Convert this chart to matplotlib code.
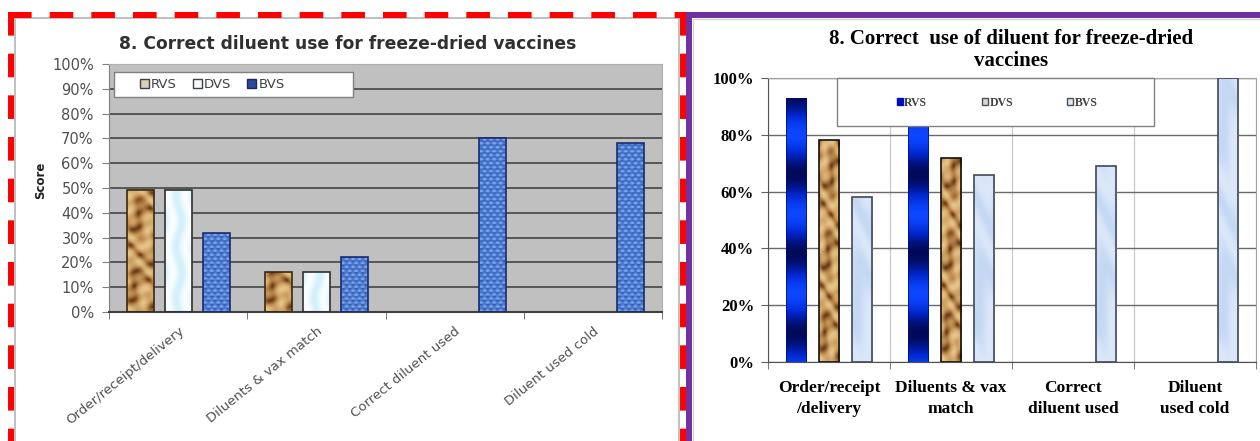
import numpy as np
import matplotlib
matplotlib.use("Agg")
import matplotlib.pyplot as plt
from matplotlib.colors import LinearSegmentedColormap
from matplotlib.patches import Rectangle, Patch

# ---- data ----
nan = np.nan
cats_left = ["Order/receipt/delivery", "Diluents & vax match",
             "Correct diluent used", "Diluent used cold"]
cats_right = ["Order/receipt\n/delivery", "Diluents & vax\nmatch",
              "Correct\ndiluent used", "Diluent\nused cold"]
series = ["RVS", "DVS", "BVS"]

left_rvs = [49, 16, nan, nan]
left_dvs = [49, 16, nan, nan]
left_bvs = [32, 22, 70, 68]

right_rvs = [93, 83, nan, nan]
right_dvs = [78, 72, nan, nan]
right_bvs = [58, 66, 69, 100]

left_yticks = list(range(0, 101, 10))
right_yticks = list(range(0, 101, 20))

W, H = 1260, 441
plt.rcParams['lines.scale_dashes'] = False
fig = plt.figure(figsize=(12.6, 4.41), dpi=100)


def px_axes(x0, y0, x1, y1):
    return fig.add_axes([x0 / W, 1 - y1 / H, (x1 - x0) / W, (y1 - y0) / H])


# fill textures for the bars
cmaps = {
    'wood': LinearSegmentedColormap.from_list('wood', ['#5a3414', '#9a6632', '#c99a5c', '#e6c48a']),
    'ice': LinearSegmentedColormap.from_list('ice', ['#d4f0fb', '#e8f8fe', '#fafeff']),
    'brick': LinearSegmentedColormap.from_list('brick', ['#2c56b2', '#4c7cd2', '#94b6f0']),
    'blue': LinearSegmentedColormap.from_list('blue', ['#000a5a', '#0024c8', '#0c46ff']),
    'sky': LinearSegmentedColormap.from_list('sky', ['#c4d8f3', '#d0e0f7', '#dce8fa']),
}


def pattern(kind, xx, yy):
    if kind == 'wood':
        v = (np.sin(0.45 * yy + 2.5 * np.sin(4 * xx + 0.2 * yy))
             + 0.5 * np.sin(1.1 * yy - 5 * xx + 0.8))
        return ((v + 1.5) / 3.0) ** 0.6
    if kind == 'ice':
        return 0.5 + 0.5 * np.sin(xx * 9 + np.sin(yy * 0.3))
    if kind == 'brick':
        row = np.floor(yy / 1.6) % 2
        return 0.5 + 0.25 * np.sin(yy * 3.9) + 0.25 * np.sin(xx * 25 + 3 * row)
    if kind == 'blue':
        return 0.5 + 0.5 * np.cos(2 * np.pi * (yy - 52) / 28) + 0 * xx
    return 0.5 + 0.5 * np.sin(yy * 0.2 + 2 * np.sin(xx * 3 + yy * 0.1))


def fill_texture(ax, bars, kind):
    for b in bars:
        h = b.get_height()
        if not np.isfinite(h) or h <= 0:
            continue
        x0, w = b.get_x(), b.get_width()
        yy = np.linspace(0, h, max(int(h * 3), 2))[:, None]
        xx = np.linspace(0, 1, 24)[None, :]
        im = ax.imshow(pattern(kind, xx, yy), cmap=cmaps[kind], vmin=0, vmax=1,
                       extent=[x0, x0 + w, 0, h], origin='lower', aspect='auto',
                       interpolation='bilinear', zorder=2.5)
        im.set_clip_path(b)


# ---- panel frames ----
bg = fig.add_axes([0, 0, 1, 1])
bg.set_xlim(0, W)
bg.set_ylim(H, 0)
bg.axis('off')
bg.add_patch(Rectangle((15, 18), 664, 440, facecolor='white', edgecolor='#b4b4b4', lw=1.2))
bg.add_patch(Rectangle((693, 19), 580, 440, facecolor='white', edgecolor='#d4d4d4', lw=1))
red = dict(color='#ff0000', lw=4.3, solid_capstyle='butt', dash_capstyle='butt',
           linestyle=(0, (17, 13)))
bg.plot([8, 686], [14.5, 14.5], **red)
bg.plot([11, 11], [12, 441], **red)
bg.plot([683, 683], [12, 441], **red)
bg.plot([686, 1260], [15, 15], color='#7030a0', lw=4.3, solid_capstyle='butt')
bg.plot([689, 689], [12, 441], color='#7030a0', lw=4.3, solid_capstyle='butt')

x = np.arange(4)

# ---- left chart ----
axL = px_axes(109, 64, 662, 312)
axL.set_facecolor('#c0c0c0')
bw, off = 0.195, 0.275
bl1 = axL.bar(x - off, left_rvs, bw, facecolor='none', edgecolor='#3a2810', lw=1.2, zorder=3)
bl2 = axL.bar(x, left_dvs, bw, facecolor='none', edgecolor='#303030', lw=1.2, zorder=3)
bl3 = axL.bar(x + off, left_bvs, bw, facecolor='none', edgecolor='#1a2a70', lw=1.2, zorder=3)
fill_texture(axL, bl1, 'wood')
fill_texture(axL, bl2, 'ice')
fill_texture(axL, bl3, 'brick')

axL.set_xlim(-0.5, 3.5)
axL.set_ylim(0, 100)
axL.set_yticks(left_yticks)
axL.set_yticklabels([f'{v}%' for v in left_yticks], fontsize=10.5, color='#505050',
                    family='DejaVu Sans')
axL.yaxis.grid(True, color='#3a3a3a', lw=1.1)
axL.set_axisbelow(True)
axL.tick_params(axis='y', length=5, width=0.8, color='#808080', pad=6)
axL.set_xticks(x)
axL.set_xticklabels(cats_left, rotation=39, ha='right', va='top', rotation_mode='anchor',
                    fontsize=9.5, color='#505050', family='DejaVu Sans')
axL.tick_params(axis='x', which='major', length=0, pad=9)
axL.set_xticks(np.arange(-0.5, 4, 1), minor=True)
axL.tick_params(axis='x', which='minor', length=5, color='#606060')
axL.spines['left'].set_color('#808080')
axL.spines['bottom'].set_color('#404040')
axL.spines['bottom'].set_linewidth(1.5)
axL.spines['top'].set_color('#b0b0b0')
axL.spines['right'].set_color('#b0b0b0')
axL.set_ylabel('Score', fontsize=8.5, fontweight='bold', family='DejaVu Sans', color='#202020')
axL.yaxis.set_label_coords(-62 / 553, 0.53)

# legend box
axL.add_patch(Rectangle(((114 - 109) / 553, (312 - 97) / 248), 239 / 553, 25 / 248,
                        transform=axL.transAxes, facecolor='white', edgecolor='#808080',
                        lw=1, zorder=5))
hl = [Patch(facecolor='#d8d0b8', edgecolor='#404040'),
      Patch(facecolor='#f4fbff', edgecolor='#404040'),
      Patch(facecolor='#2a4aa0', edgecolor='#1a2a60')]
lg = axL.legend(hl, series, ncol=3, loc='center left', frameon=False,
                bbox_to_anchor=((128 - 109) / 553, (312 - 84.5) / 248),
                handlelength=0.7, handleheight=0.7, handletextpad=0.15, columnspacing=1.2,
                prop={'family': 'DejaVu Sans', 'size': 9.5})
lg.set_zorder(6)
for t in lg.get_texts():
    t.set_color('#404040')

fig.text(348 / W, 1 - 44 / H, '8. Correct diluent use for freeze-dried vaccines',
         ha='center', va='center', fontsize=12.3, fontweight='bold',
         family='DejaVu Sans', color='#303030')

# ---- right chart ----
serif = 'Liberation Serif'
axR = px_axes(768, 78, 1256, 362)
bw, off = 0.17, 0.27
br1 = axR.bar(x - off, right_rvs, bw, facecolor='none', edgecolor='#000a80', lw=0.5, zorder=3)
br2 = axR.bar(x, right_dvs, bw, facecolor='none', edgecolor='#101010', lw=1.2, zorder=3)
br3 = axR.bar(x + off, right_bvs, bw, facecolor='none', edgecolor='#404858', lw=1.2, zorder=3)
fill_texture(axR, br1, 'blue')
fill_texture(axR, br2, 'wood')
fill_texture(axR, br3, 'sky')

axR.set_xlim(-0.5, 3.5)
axR.set_ylim(0, 100)
axR.set_yticks(right_yticks)
axR.set_yticklabels([f'{v}%' for v in right_yticks], fontsize=12, fontweight='bold',
                    family=serif)
axR.yaxis.grid(True, color='#6a6a6a', lw=1.0)
axR.set_xticks(np.arange(-0.5, 4, 1), minor=True)
axR.xaxis.grid(True, which='minor', color='#c8c8c8', lw=0.9)
axR.set_axisbelow(True)
axR.tick_params(axis='y', length=5, width=0.8, color='#606060', pad=5)
axR.set_xticks(x)
axR.set_xticklabels(cats_right, fontsize=12.5, fontweight='bold', family=serif,
                    linespacing=1.42)
axR.tick_params(axis='x', which='major', length=0, pad=13)
axR.tick_params(axis='x', which='minor', length=5, color='#606060')
for s in ['left', 'bottom']:
    axR.spines[s].set_color('#505050')
axR.spines['top'].set_color('#a0a0a0')
axR.spines['right'].set_color('#a0a0a0')

axR.add_patch(Rectangle(((837 - 768) / 488, (362 - 126) / 284), 317 / 488, 48 / 284,
                        transform=axR.transAxes, facecolor='white', edgecolor='#808080',
                        lw=1, zorder=5, clip_on=False))
hr = [Patch(facecolor='#0010c0', edgecolor='#0010c0'),
      Patch(facecolor='#d8d8d8', edgecolor='#505050'),
      Patch(facecolor='#dde6f5', edgecolor='#505050')]
lg = axR.legend(hr, series, ncol=3, loc='center left', frameon=False,
                bbox_to_anchor=((886 - 768) / 488, (362 - 103) / 284),
                handlelength=0.5, handleheight=0.5, handletextpad=0.15, columnspacing=4.6,
                prop={'family': serif, 'size': 8.5, 'weight': 'bold'})
lg.set_zorder(6)
for t in lg.get_texts():
    t.set_color('#404040')

fig.text(1011 / W, 1 - 50 / H, '8. Correct  use of diluent for freeze-dried\nvaccines',
         ha='center', va='center', fontsize=15, fontweight='bold', family=serif,
         linespacing=1.12)

fig.savefig('out.png', dpi=100)
